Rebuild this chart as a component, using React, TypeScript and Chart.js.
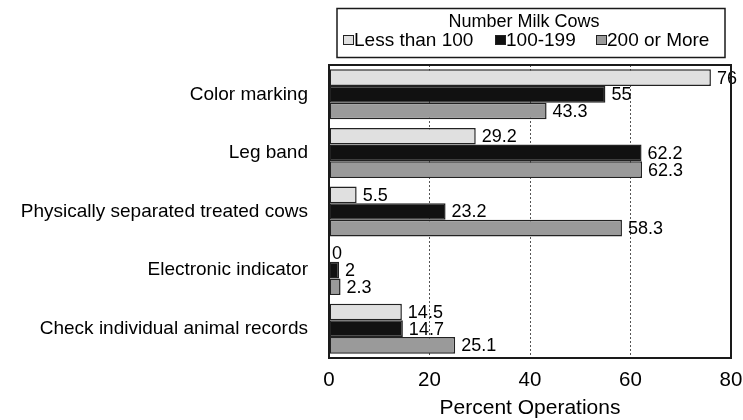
import React, { useEffect, useRef } from "react";
import { Chart, registerables } from "chart.js";

Chart.register(...registerables);

const categories = [
  "Color marking",
  "Leg band",
  "Physically separated treated cows",
  "Electronic indicator",
  "Check individual animal records",
];
const seriesNames = ["Less than 100", "100-199", "200 or More"];
const lessThan100 = [76, 29.2, 5.5, 0, 14.5];
const from100to199 = [55, 62.2, 23.2, 2, 14.7];
const twoHundredOrMore = [43.3, 62.3, 58.3, 2.3, 25.1];
const xTickValues = [0, 20, 40, 60, 80];
const legendTitle = "Number Milk Cows";
const axisTitle = "Percent Operations";

const FONT = '"Liberation Sans", Arial, Helvetica, sans-serif';
const fills = ["#e0e0e0", "#111111", "#9a9a9a"];

const valueLabels = {
  id: "valueLabels",
  afterDatasetDraw(chart: any, args: any) {
    const { ctx } = chart;
    const ds = chart.data.datasets[args.index];
    ctx.save();
    ctx.font = `18px ${FONT}`;
    ctx.fillStyle = "#000";
    ctx.textAlign = "left";
    ctx.textBaseline = "middle";
    args.meta.data.forEach((bar: any, i: number) => {
      const v = ds.data[i];
      ctx.fillText(String(v), bar.x + (v === 0 ? 3 : 6), bar.y + 1);
    });
    ctx.restore();
  },
};

const frame = {
  id: "frame",
  afterDraw(chart: any) {
    const { ctx, chartArea: a } = chart;
    ctx.save();
    ctx.strokeStyle = "#1a1a1a";
    ctx.lineWidth = 2;
    ctx.strokeRect(a.left, a.top, a.right - a.left, a.bottom - a.top);
    ctx.restore();
  },
};

const boxLegend = {
  id: "boxLegend",
  afterDraw(chart: any) {
    const { ctx } = chart;
    ctx.save();
    ctx.strokeStyle = "#1a1a1a";
    ctx.lineWidth = 1.5;
    ctx.strokeRect(337, 8.5, 388, 49);
    ctx.fillStyle = "#000";
    ctx.textBaseline = "middle";
    ctx.textAlign = "center";
    ctx.font = `18px ${FONT}`;
    ctx.fillText(legendTitle, 524, 22);
    const boxX = [343, 495, 596];
    ctx.font = `19px ${FONT}`;
    ctx.textAlign = "left";
    chart.data.datasets.forEach((ds: any, i: number) => {
      ctx.fillStyle = ds.backgroundColor;
      ctx.fillRect(boxX[i], 35, 11, 10);
      ctx.strokeStyle = "#222";
      ctx.lineWidth = 1;
      ctx.strokeRect(boxX[i] + 0.5, 35.5, 10, 9);
      ctx.fillStyle = "#000";
      ctx.fillText(ds.label, boxX[i] + 11, 40.5);
    });
    ctx.restore();
  },
};

export default function App() {
  const ref = useRef<HTMLCanvasElement>(null);
  useEffect(() => {
    if (!ref.current) return;
    const seriesData = [lessThan100, from100to199, twoHundredOrMore];
    const chart = new Chart(ref.current, {
      type: "bar",
      data: {
        labels: categories,
        datasets: seriesNames.map((name, i) => ({
          label: name,
          data: seriesData[i],
          backgroundColor: fills[i],
          borderColor: "#222",
          borderWidth: 1.5,
          borderSkipped: false,
          barPercentage: 1.0,
          categoryPercentage: 0.853,
        })),
      },
      options: {
        indexAxis: "y",
        responsive: true,
        maintainAspectRatio: false,
        animation: false,
        layout: { padding: { top: 65, right: 12, bottom: 0, left: 0 } },
        plugins: {
          legend: { display: false },
          tooltip: { enabled: false },
        },
        scales: {
          x: {
            min: 0,
            max: 80,
            afterBuildTicks: (scale: any) => {
              scale.ticks = xTickValues.map((v) => ({ value: v }));
            },
            afterFit: (scale: any) => {
              scale.height = 62;
              scale.paddingLeft = 0;
              scale.paddingRight = 0;
            },
            grid: {
              display: true,
              drawTicks: false,
              color: "#555",
              lineWidth: 1,
            },
            border: { display: false, dash: [2, 2] },
            ticks: {
              color: "#000",
              padding: 10,
              font: { family: FONT, size: 20.5 },
            },
            title: {
              display: true,
              text: axisTitle,
              color: "#000",
              font: { family: FONT, size: 21, lineHeight: 1.1 },
              padding: { top: 0, bottom: 0 },
            },
          },
          y: {
            afterFit: (scale: any) => {
              scale.width = 329;
              scale.paddingTop = 0;
              scale.paddingBottom = 0;
            },
            grid: { display: false, drawTicks: false },
            border: { display: false },
            ticks: {
              color: "#000",
              padding: 21,
              font: { family: FONT, size: 19 },
            },
          },
        },
      },
      plugins: [valueLabels, frame, boxLegend],
    });
    return () => chart.destroy();
  }, []);
  return (
    <div style={{ position: "fixed", left: 0, top: 0, width: 743, height: 420, background: "#fff" }}>
      <canvas ref={ref} />
    </div>
  );
}
